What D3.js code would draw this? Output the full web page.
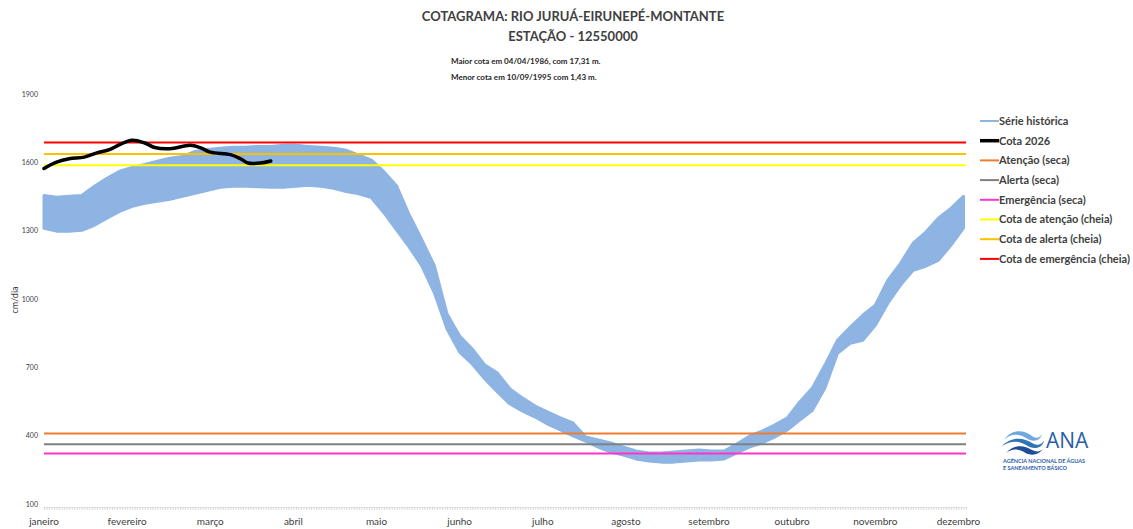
<!DOCTYPE html>
<html>
<head>
<meta charset="utf-8">
<script src="https://cdn.jsdelivr.net/npm/d3@7"></script>
<style>
  body { margin: 0; background: #fff; }
  svg { font-family: Lato, "Open Sans", sans-serif; }
</style>
</head>
<body>
<div id="chart"></div>
<script>
// day of year (every 5 days) for the historical band
var bandDays = d3.range(0, 366, 5);
var bandHigh = [1468,1460,1464,1468,1508,1543,1574,1591,1604,1618,1631,1639,1661,1670,1675,1679,1679,1683,1683,1688,
                1688,1683,1679,1675,1666,1645,1623,1571,1509,1382,1272,1158,947,851,794,723,688,618,578,543,
                517,491,469,407,394,381,363,346,337,337,341,346,350,346,346,376,411,433,460,490,
                561,622,723,832,889,942,986,1096,1170,1258,1306,1368,1411,1464];
var bandLow  = [1324,1311,1311,1315,1337,1368,1398,1420,1433,1442,1451,1464,1477,1490,1504,1508,1508,1506,1504,1504,
                1508,1512,1508,1499,1485,1475,1458,1391,1316,1241,1158,1039,881,780,728,662,605,552,521,495,
                464,438,412,389,363,341,328,311,302,297,297,302,306,306,311,337,363,381,407,438,
                482,525,622,775,819,832,898,995,1074,1139,1157,1183,1249,1324];

// cota 2026
var cotaDays = [0,5,10,16,21,26,30,35,40,44,50,58,62,66,74,78,81,86,90];
var cota2026 = [1586,1614,1629,1636,1655,1669,1691,1710,1698,1678,1673,1688,1678,1658,1647,1629,1610,1610,1619];

// reference levels
var refNames  = ["Atenção (seca)","Alerta (seca)","Emergência (seca)","Cota de atenção (cheia)","Cota de alerta (cheia)","Cota de emergência (cheia)"];
var refValues = [423, 376, 335, 1600, 1650, 1700];
var refColors = ["#ed7d31","#808080","#ff33cc","#ffff00","#ffc000","#ff0000"];

var yTicks = [100,400,700,1000,1300,1600,1900];
var monthLabels = ["janeiro","fevereiro","março","abril","maio","junho","julho","agosto","setembro","outubro","novembro","dezembro"];
var monthDays = [0,33,66,99,132,165,198,231,264,297,330,363];

var width = 1133, height = 529;

var svg = d3.select("#chart").append("svg")
    .attr("width", width)
    .attr("height", height);

var x = d3.scaleLinear().domain([0, 366]).range([44, 966]);
var y = d3.scaleLinear().domain([100, 1900]).range([507, 97]);

// titles
svg.append("text").attr("x", 573).attr("y", 21).attr("text-anchor", "middle")
    .attr("font-size", 13).attr("font-weight", "bold").attr("fill", "#404040")
    .text("COTAGRAMA: RIO JURUÁ-EIRUNEPÉ-MONTANTE");
svg.append("text").attr("x", 573).attr("y", 41).attr("text-anchor", "middle")
    .attr("font-size", 13).attr("font-weight", "bold").attr("fill", "#404040")
    .text("ESTAÇÃO - 12550000");
svg.append("text").attr("x", 451).attr("y", 64)
    .attr("font-size", 8).attr("font-weight", "bold").attr("fill", "#262626")
    .text("Maior cota em 04/04/1986, com 17,31 m.");
svg.append("text").attr("x", 451).attr("y", 80)
    .attr("font-size", 8).attr("font-weight", "bold").attr("fill", "#262626")
    .text("Menor cota em 10/09/1995 com 1,43 m.");

// historical band
var band = bandDays.map(function(d, i) { return {d: d, hi: bandHigh[i], lo: bandLow[i]}; });
svg.append("path")
    .datum(band)
    .attr("fill", "#8db4e2")
    .attr("stroke", "#8db4e2")
    .attr("stroke-width", 3)
    .attr("stroke-linejoin", "round")
    .attr("d", d3.area()
        .x(function(d) { return x(d.d); })
        .y0(function(d) { return y(d.lo); })
        .y1(function(d) { return y(d.hi); }));

// reference lines
refValues.forEach(function(v, i) {
    svg.append("line")
        .attr("x1", x(0)).attr("x2", x(366))
        .attr("y1", y(v)).attr("y2", y(v))
        .attr("stroke", refColors[i]).attr("stroke-width", 2);
});

// cota 2026
var cota = cotaDays.map(function(d, i) { return {d: d, v: cota2026[i]}; });
svg.append("path")
    .datum(cota)
    .attr("fill", "none")
    .attr("stroke", "#000")
    .attr("stroke-width", 3.5)
    .attr("stroke-linejoin", "round")
    .attr("stroke-linecap", "round")
    .attr("d", d3.line().curve(d3.curveCatmullRom)
        .x(function(d) { return x(d.d); })
        .y(function(d) { return y(d.v); }));

// x axis (one small tick per day)
var xAxis = svg.append("g")
    .attr("transform", "translate(0," + y(100) + ")")
    .call(d3.axisBottom(x).tickValues(d3.range(0, 367)).tickSize(3).tickFormat(""));
xAxis.select(".domain").attr("stroke", "#e0e0e0");
xAxis.selectAll(".tick line").attr("stroke", "#d9d9d9");

svg.selectAll("text.month")
    .data(monthLabels)
    .enter().append("text")
    .attr("class", "month")
    .attr("x", function(d, i) { return x(monthDays[i]); })
    .attr("y", 525)
    .attr("text-anchor", "middle")
    .attr("font-size", 10)
    .attr("fill", "#404040")
    .text(function(d) { return d; });

// y axis
var yAxis = svg.append("g")
    .attr("transform", "translate(41,0)")
    .call(d3.axisLeft(y).tickValues(yTicks).tickSize(0).tickPadding(3).tickFormat(d3.format("d")));
yAxis.select(".domain").remove();
yAxis.selectAll("text").attr("font-size", 7).attr("fill", "#404040")
    .attr("font-family", "Lato, sans-serif").attr("dy", "-0.1em");

svg.append("text")
    .attr("transform", "translate(18," + 300 + ") rotate(-90)")
    .attr("text-anchor", "middle")
    .attr("font-size", 9)
    .attr("fill", "#404040")
    .text("cm/dia");

// legend
var legNames = ["Série histórica", "Cota 2026"].concat(refNames);
var legColors = ["#8db4e2", "#000"].concat(refColors);
var legend = svg.selectAll("g.leg")
    .data(legNames)
    .enter().append("g")
    .attr("class", "leg")
    .attr("transform", function(d, i) { return "translate(980," + (121 + i * 19.7) + ")"; });
legend.append("line")
    .attr("x1", 0).attr("x2", 19)
    .attr("stroke", function(d, i) { return legColors[i]; })
    .attr("stroke-width", function(d, i) { return i == 1 ? 3.5 : 2; });
legend.append("text")
    .attr("x", 19).attr("dy", "0.35em")
    .attr("font-size", 11)
    .attr("font-weight", "bold")
    .attr("fill", "#404040")
    .text(function(d) { return d; });

// ANA logo
var logo = svg.append("g").attr("transform", "translate(1002,426)");
logo.append("path").attr("fill", "#6fa8dc")
    .attr("d", "M2,14 C10,2 22,4 30,10 C34,13 38,12 40,8 C38,16 30,16 24,12 C16,7 8,8 2,14 Z");
logo.append("path").attr("fill", "#2e75b6")
    .attr("d", "M0,20 C10,10 22,12 30,17 C35,20 39,19 42,15 C40,23 31,24 24,19 C16,14 8,15 0,20 Z");
logo.append("path").attr("fill", "#1f4e96")
    .attr("d", "M4,27 C12,18 22,19 30,24 C34,26 38,26 41,23 C36,30 28,30 22,26 C15,22 9,23 4,27 Z");
logo.append("text").attr("x", 44).attr("y", 22)
    .attr("font-size", 21).attr("fill", "#2a5ea8").attr("font-family", "Open Sans, sans-serif")
    .text("ANA");
logo.append("text").attr("x", 1).attr("y", 37)
    .attr("font-size", 5.5).attr("font-weight", "bold").attr("fill", "#2a5ea8")
    .text("AGÊNCIA NACIONAL DE ÁGUAS");
logo.append("text").attr("x", 1).attr("y", 44)
    .attr("font-size", 5.5).attr("font-weight", "bold").attr("fill", "#2a5ea8")
    .text("E SANEAMENTO BÁSICO");
</script>
</body>
</html>
